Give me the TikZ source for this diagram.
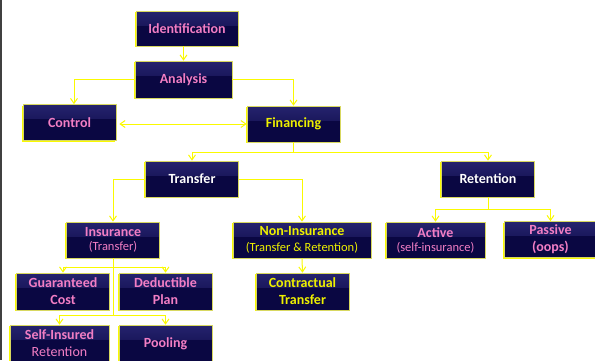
\documentclass[tikz,border=0pt]{standalone}
\usepackage{fontspec}
\setmainfont{Carlito}
\usetikzlibrary{arrows.meta,positioning,shadows}

\definecolor{boxnavy}{HTML}{0A0742}
\definecolor{boxtop}{HTML}{25236E}
\definecolor{edgeyellow}{HTML}{D8D860}
\definecolor{lineyellow}{HTML}{FAFA00}
\definecolor{textpink}{HTML}{F27EC4}
\definecolor{textyellow}{HTML}{EEF000}

\newcommand{\subline}[1]{{\mdseries\fontsize{12.5}{14}\selectfont #1}}

\begin{document}
\begin{tikzpicture}[
    x=1pt, y=1pt,
    block/.style={rectangle, draw=edgeyellow, line width=0.6pt, fill=boxnavy,
        path picture={\shade[top color=boxtop, bottom color=boxnavy] (path picture bounding box.north west) rectangle ([yshift=-14pt]path picture bounding box.north east);},
        drop shadow={shadow xshift=-1.4pt, shadow yshift=-1.4pt, fill=lineyellow, opacity=1},
        minimum width=93pt, minimum height=36pt, inner sep=0pt, align=center, font=\bfseries\fontsize{14}{17}\selectfont},
    pinkbox/.style={block, text=textpink},
    yellowbox/.style={block, text=textyellow},
    whitebox/.style={block, text=white},
    link/.style={-{Straight Barb[length=5pt, width=7pt]}, draw=lineyellow, line width=1pt},
]
\useasboundingbox (0,0) rectangle (595,-360);
\draw[darkgray, line width=1.5pt] (0.75,0) -- (0.75,-360);

% Risk management process
\node[pinkbox, minimum width=102pt, minimum height=35pt] (ident) at (187,-28.5) {Identification};
\node[pinkbox, minimum width=97pt, minimum height=37pt] (ana) at (183.5,-79.5) {Analysis};
\node[pinkbox] (ctrl) at (69.5,-122.5) {Control};
\node[yellowbox] (fin) at (293.5,-124) {Financing};

% Financing methods
\node[whitebox] (trans) at (192,-179) {Transfer};
\node[whitebox] (ret) at (488,-179) {Retention};
\node[pinkbox] (ins) at (113,-240) {Insurance\\[-3pt]\subline{(Transfer)}};
\node[yellowbox, minimum width=138pt] (nonins) at (302,-240) {Non-Insurance\\[-1pt]\subline{(Transfer \& Retention)}};
\node[pinkbox, minimum width=99pt] (active) at (435.5,-240) {Active\\[-3pt]\subline{(self-insurance)}};
\node[pinkbox] (passive) at (550.5,-239.5) {Passive\\(oops)};

% Insurance and transfer options
\node[pinkbox, minimum height=37pt] (guar) at (63,-291.5) {Guaranteed\\Cost};
\node[pinkbox, minimum height=37pt] (ded) at (165.5,-291.5) {Deductible\\Plan};
\node[yellowbox, minimum height=37pt] (contr) at (302.5,-291.5) {Contractual\\Transfer};
\node[pinkbox, minimum width=99pt, minimum height=37pt] (self) at (59.5,-343.5) {Self-Insured\\{\mdseries Retention}};
\node[pinkbox, minimum height=37pt] (pool) at (165.5,-343.5) {Pooling};

% Connectors
\draw[link] (ident.south -| ana.north) -- (ana.north);
\draw[link] (ana.west) -| ([xshift=4.5pt]ctrl.north);
\draw[link] (ana.east) -| (fin.north);
\draw[link, {Straight Barb[length=5pt, width=7pt]}-{Straight Barb[length=5pt, width=7pt]}] ([xshift=3pt]fin.west -| ctrl.east) -- (fin.west);

\draw[link] (fin.south) -- ++(0,-10) coordinate (finsplit) -| (trans.north);
\draw[link] (finsplit) -| (ret.north);

\draw[link] (trans.west) -| (ins.north);
\draw[link] (trans.east) -| (nonins.north);
\draw[link] (nonins.south) -- (contr.north);

\draw[link] (ret.south) -- ++(0,-12) coordinate (retsplit) -| (active.north);
\draw[link] (retsplit) -| (passive.north);

\draw[link] (ins.south) -- ++(0,-9) coordinate (inssplit) -| (guar.north);
\draw[link] (inssplit) -| (ded.north);
\draw[link] (ins.south) -- ++(0,-57) coordinate (poolsplit) -| (self.north);
\draw[link] (poolsplit) -| (pool.north);

\end{tikzpicture}
\end{document}
